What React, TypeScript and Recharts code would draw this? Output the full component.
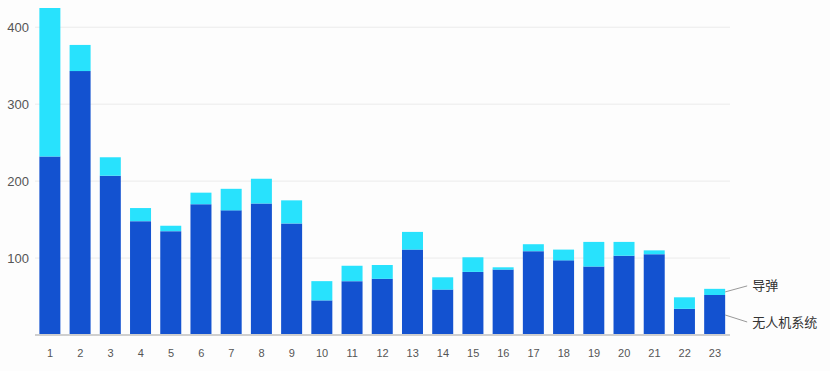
import React from "react";
import { BarChart, Bar, XAxis, YAxis, CartesianGrid, LabelList } from "recharts";

const categories = ["1","2","3","4","5","6","7","8","9","10","11","12","13","14","15","16","17","18","19","20","21","22","23"];
const drones = [232, 343, 207, 148, 135, 170, 162, 171, 145, 45, 70, 73, 111, 59, 82, 85, 109, 97, 89, 103, 105, 34, 52];
const missiles = [193, 34, 24, 17, 7, 15, 28, 32, 30, 25, 20, 18, 23, 16, 19, 3, 9, 14, 32, 18, 5, 15, 8];
const yTicks = [100, 200, 300, 400];
const droneName = "无人机系统";
const missileName = "导弹";

const data = categories.map((c, i) => ({ name: c, drone: drones[i], missile: missiles[i] }));
const lastIndex = categories.length - 1;

const makeLabel = (text: string, dy: number) => (props: any) => {
  const { x, y, width, height, index } = props;
  if (index !== lastIndex) return null;
  const x0 = Number(x) + Number(width);
  const y0 = Number(y) + Number(height) / 2;
  const x1 = x0 + 22;
  const y1 = y0 + dy;
  return (
    <g>
      <line x1={x0} y1={y0} x2={x1} y2={y1} stroke="#999" strokeWidth={1} />
      <text x={x1 + 5} y={y1 + 1} dominantBaseline="middle" fontSize={13} fill="#333"
        fontFamily="'Noto Sans CJK SC', sans-serif">{text}</text>
    </g>
  );
};

export default function App() {
  return (
    <div style={{ position: "absolute", left: 0, top: 0, width: 830, height: 371, background: "#fdfdfd" }}>
      <BarChart width={830} height={371} data={data} barCategoryGap="14.5%"
        margin={{ top: 8, right: 100, bottom: 6, left: 0 }}>
        <CartesianGrid vertical={false} stroke="#ebebeb" strokeWidth={1} syncWithTicks />
        <XAxis dataKey="name" tickLine={false} axisLine={{ stroke: "#cfcfcf", strokeWidth: 2 }}
          height={30} tickMargin={8} interval={0}
          tick={{ fontSize: 11, fill: "#555", fontFamily: "'Liberation Sans', Arial, sans-serif" }} />
        <YAxis width={35} domain={[0, "dataMax"]} ticks={yTicks} tickLine={false} axisLine={false}
          tickMargin={0}
          tick={{ fontSize: 13, fill: "#555", fontFamily: "'Liberation Sans', Arial, sans-serif" }} />
        <Bar dataKey="drone" stackId="a" fill="#1352D0" isAnimationActive={false}>
          <LabelList dataKey="drone" content={makeLabel(droneName, 7)} />
        </Bar>
        <Bar dataKey="missile" stackId="a" fill="#28E2FD" isAnimationActive={false}>
          <LabelList dataKey="missile" content={makeLabel(missileName, -6)} />
        </Bar>
      </BarChart>
    </div>
  );
}
